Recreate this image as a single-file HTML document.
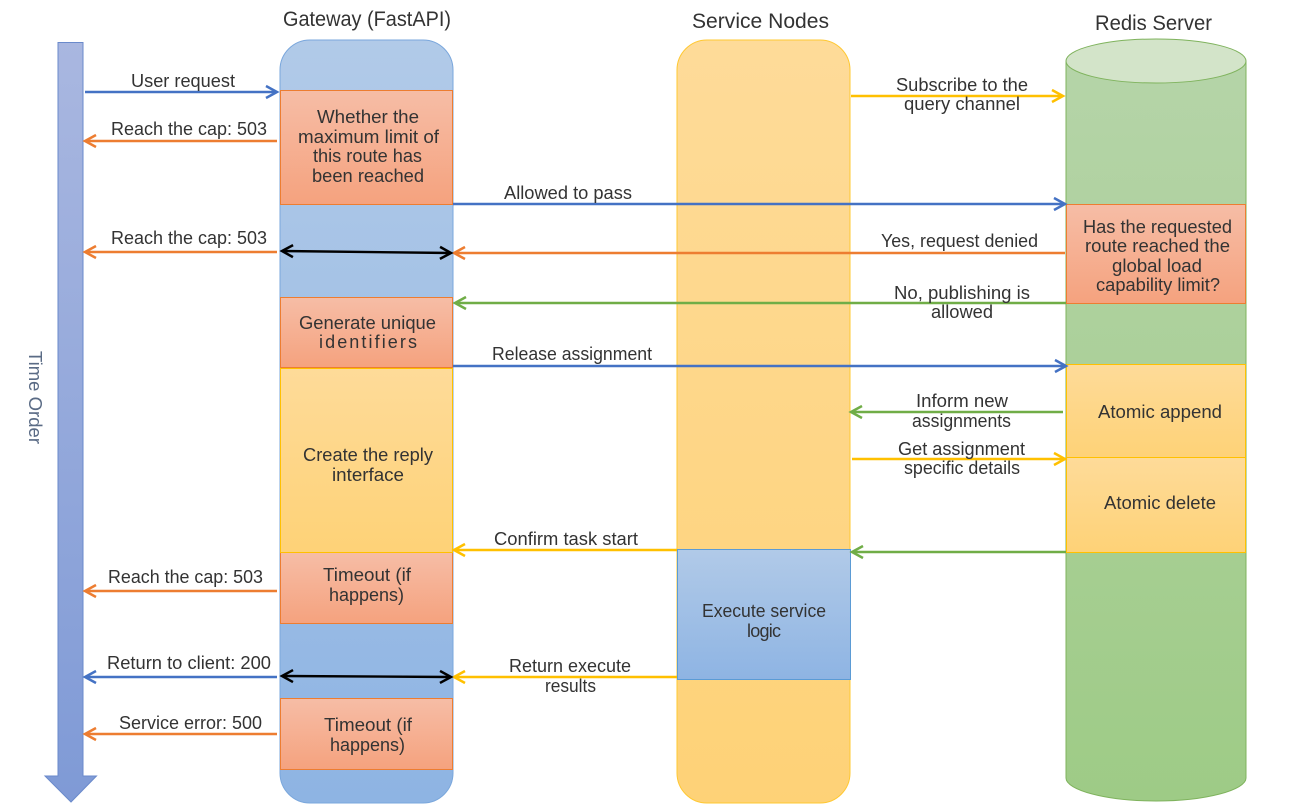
<!DOCTYPE html>
<html><head><meta charset="utf-8"><style>
html,body{margin:0;padding:0;background:#fff;width:1293px;height:808px;overflow:hidden}
svg{display:block}
text{font-family:"Liberation Sans",sans-serif;font-size:18px;fill:#333}
</style></head><body>
<svg width="1293" height="808" viewBox="0 0 1293 808" xmlns="http://www.w3.org/2000/svg">
<defs>
<linearGradient id="gb" x1="0" y1="0" x2="0" y2="1"><stop offset="0" stop-color="#b1cae8"/><stop offset="1" stop-color="#8eb4e3"/></linearGradient>
<linearGradient id="gy" x1="0" y1="0" x2="0" y2="1"><stop offset="0" stop-color="#fedb99"/><stop offset="1" stop-color="#fed277"/></linearGradient>
<linearGradient id="go" x1="0" y1="0" x2="0" y2="1"><stop offset="0" stop-color="#f6bda6"/><stop offset="1" stop-color="#f5a27e"/></linearGradient>
<linearGradient id="gg" x1="0" y1="0" x2="0" y2="1"><stop offset="0" stop-color="#b5d4a8"/><stop offset="1" stop-color="#9ecb86"/></linearGradient>
<linearGradient id="gt" x1="0" y1="0" x2="0" y2="1"><stop offset="0" stop-color="#a9b7e0"/><stop offset="1" stop-color="#7f9ad6"/></linearGradient>
<marker id="mb" markerUnits="userSpaceOnUse" markerWidth="16" markerHeight="16" refX="13" refY="8" orient="auto-start-reverse" overflow="visible"><path d="M2,2 L13,8 L2,14" fill="none" stroke="#4472c4" stroke-width="2.5"/></marker>
<marker id="mo" markerUnits="userSpaceOnUse" markerWidth="16" markerHeight="16" refX="13" refY="8" orient="auto-start-reverse" overflow="visible"><path d="M2,2 L13,8 L2,14" fill="none" stroke="#ed7d31" stroke-width="2.5"/></marker>
<marker id="my" markerUnits="userSpaceOnUse" markerWidth="16" markerHeight="16" refX="13" refY="8" orient="auto-start-reverse" overflow="visible"><path d="M2,2 L13,8 L2,14" fill="none" stroke="#ffc000" stroke-width="2.5"/></marker>
<marker id="mg" markerUnits="userSpaceOnUse" markerWidth="16" markerHeight="16" refX="13" refY="8" orient="auto-start-reverse" overflow="visible"><path d="M2,2 L13,8 L2,14" fill="none" stroke="#70ad47" stroke-width="2.5"/></marker>
<marker id="mk" markerUnits="userSpaceOnUse" markerWidth="16" markerHeight="16" refX="13" refY="8" orient="auto-start-reverse" overflow="visible"><path d="M2,2 L13,8 L2,14" fill="none" stroke="#000" stroke-width="2.5"/></marker>
</defs>

<!-- time arrow -->
<path d="M58,42.5 H83 V776 H96.5 L71,802 L45,776 H58 Z" fill="url(#gt)" stroke="#6a8acb" stroke-width="1"/>

<!-- lanes -->
<rect x="280" y="40" width="173" height="763" rx="30" ry="30" fill="url(#gb)" stroke="#7aa7dc" stroke-width="1"/>
<rect x="677" y="40" width="173" height="763" rx="30" ry="30" fill="url(#gy)" stroke="#ffc832" stroke-width="1"/>
<path d="M1066,61 V778 C1066,790 1106,801 1156,801 C1206,801 1246,790 1246,778 V61 Z" fill="url(#gg)" stroke="#7fb35d" stroke-width="1"/>
<ellipse cx="1156" cy="61" rx="90" ry="22" fill="#d3e4c9" stroke="#7fb35d" stroke-width="1"/>

<!-- boxes -->
<g stroke="#ed7d31" stroke-width="1" fill="url(#go)">
<rect x="280.5" y="90.5" width="172" height="114"/>
<rect x="280.5" y="297.5" width="172" height="70"/>
<rect x="280.5" y="552.5" width="172" height="71"/>
<rect x="280.5" y="698.5" width="172" height="71"/>
<rect x="1066.5" y="204.5" width="179" height="99"/>
</g>
<g stroke="#ffc000" stroke-width="1" fill="url(#gy)">
<rect x="280.5" y="368.5" width="172" height="184"/>
<rect x="1066.5" y="364.5" width="179" height="93"/>
<rect x="1066.5" y="457.5" width="179" height="95"/>
</g>
<rect x="677.5" y="549.5" width="173" height="130" fill="url(#gb)" stroke="#5b9bd5" stroke-width="1"/>

<!-- connectors -->
<g fill="none" stroke-width="2.4">
<line x1="85" y1="92" x2="277" y2="92" stroke="#4472c4" marker-end="url(#mb)"/>
<line x1="277" y1="141" x2="85" y2="141" stroke="#ed7d31" marker-end="url(#mo)"/>
<line x1="453" y1="204" x2="1065" y2="204" stroke="#4472c4" marker-end="url(#mb)"/>
<line x1="277" y1="252" x2="85" y2="252" stroke="#ed7d31" marker-end="url(#mo)"/>
<line x1="1065" y1="253" x2="454" y2="253" stroke="#ed7d31" marker-end="url(#mo)"/>
<line x1="1066" y1="303" x2="455" y2="303" stroke="#70ad47" marker-end="url(#mg)"/>
<line x1="453" y1="366" x2="1066" y2="366" stroke="#4472c4" marker-end="url(#mb)"/>
<line x1="851" y1="96" x2="1063" y2="96" stroke="#ffc000" marker-end="url(#my)"/>
<line x1="1063" y1="412" x2="851" y2="412" stroke="#70ad47" marker-end="url(#mg)"/>
<line x1="852" y1="459" x2="1065" y2="459" stroke="#ffc000" marker-end="url(#my)"/>
<line x1="1066" y1="552" x2="852" y2="552" stroke="#70ad47" marker-end="url(#mg)"/>
<line x1="677" y1="550" x2="454" y2="550" stroke="#ffc000" marker-end="url(#my)"/>
<line x1="277" y1="591" x2="85" y2="591" stroke="#ed7d31" marker-end="url(#mo)"/>
<line x1="277" y1="677" x2="85" y2="677" stroke="#4472c4" marker-end="url(#mb)"/>
<line x1="677" y1="677" x2="454" y2="677" stroke="#ffc000" marker-end="url(#my)"/>
<line x1="277" y1="734" x2="85" y2="734" stroke="#ed7d31" marker-end="url(#mo)"/>
<line x1="282" y1="251" x2="451" y2="253" stroke="#000" marker-start="url(#mk)" marker-end="url(#mk)"/>
<line x1="282" y1="676" x2="451" y2="677" stroke="#000" marker-start="url(#mk)" marker-end="url(#mk)"/>
</g>

<!-- titles -->
<text x="283" y="26" textLength="168" lengthAdjust="spacingAndGlyphs" style="font-size:21px">Gateway (FastAPI)</text>
<text x="692" y="28" textLength="137" lengthAdjust="spacingAndGlyphs" style="font-size:21px">Service Nodes</text>
<text x="1095" y="30" textLength="117" lengthAdjust="spacingAndGlyphs" style="font-size:21px">Redis Server</text>

<!-- labels -->
<g>
<text x="131" y="87" textLength="104" lengthAdjust="spacingAndGlyphs">User request</text>
<text x="111" y="135" textLength="156" lengthAdjust="spacingAndGlyphs">Reach the cap: 503</text>
<text x="111" y="244" textLength="156" lengthAdjust="spacingAndGlyphs">Reach the cap: 503</text>
<text x="108" y="583" textLength="155" lengthAdjust="spacingAndGlyphs">Reach the cap: 503</text>
<text x="107" y="669" textLength="164" lengthAdjust="spacingAndGlyphs">Return to client: 200</text>
<text x="119" y="729" textLength="143" lengthAdjust="spacingAndGlyphs">Service error: 500</text>

<text x="317" y="123" textLength="102" lengthAdjust="spacingAndGlyphs">Whether the</text>
<text x="298" y="143" textLength="141" lengthAdjust="spacingAndGlyphs">maximum limit of</text>
<text x="313" y="162" textLength="109" lengthAdjust="spacingAndGlyphs">this route has</text>
<text x="312" y="182" textLength="112" lengthAdjust="spacingAndGlyphs">been reached</text>

<text x="299" y="329" textLength="137" lengthAdjust="spacingAndGlyphs">Generate unique</text>
<text x="319" y="348" textLength="98" lengthAdjust="spacing">identifiers</text>
<text x="303" y="461" textLength="130" lengthAdjust="spacingAndGlyphs">Create the reply</text>
<text x="332" y="481" textLength="72" lengthAdjust="spacingAndGlyphs">interface</text>
<text x="323" y="581" textLength="88" lengthAdjust="spacingAndGlyphs">Timeout (if</text>
<text x="329" y="601" textLength="75" lengthAdjust="spacingAndGlyphs">happens)</text>
<text x="324" y="731" textLength="88" lengthAdjust="spacingAndGlyphs">Timeout (if</text>
<text x="330" y="751" textLength="75" lengthAdjust="spacingAndGlyphs">happens)</text>

<text x="504" y="199" textLength="128" lengthAdjust="spacingAndGlyphs">Allowed to pass</text>
<text x="492" y="360" textLength="160" lengthAdjust="spacingAndGlyphs">Release assignment</text>
<text x="494" y="545" textLength="144" lengthAdjust="spacingAndGlyphs">Confirm task start</text>
<text x="509" y="672" textLength="122" lengthAdjust="spacingAndGlyphs">Return execute</text>
<text x="545" y="692" textLength="51" lengthAdjust="spacingAndGlyphs">results</text>

<text x="702" y="617" textLength="124" lengthAdjust="spacingAndGlyphs">Execute service</text>
<text x="747" y="637" textLength="34" lengthAdjust="spacing">logic</text>

<text x="896" y="91" textLength="132" lengthAdjust="spacingAndGlyphs">Subscribe to the</text>
<text x="904" y="110" textLength="116" lengthAdjust="spacingAndGlyphs">query channel</text>
<text x="881" y="247" textLength="157" lengthAdjust="spacingAndGlyphs">Yes, request denied</text>
<text x="894" y="299" textLength="136" lengthAdjust="spacingAndGlyphs">No, publishing is</text>
<text x="931" y="318" textLength="62" lengthAdjust="spacingAndGlyphs">allowed</text>
<text x="916" y="407" textLength="92" lengthAdjust="spacingAndGlyphs">Inform new</text>
<text x="912" y="427" textLength="99" lengthAdjust="spacingAndGlyphs">assignments</text>
<text x="898" y="455" textLength="127" lengthAdjust="spacingAndGlyphs">Get assignment</text>
<text x="904" y="474" textLength="116" lengthAdjust="spacingAndGlyphs">specific details</text>

<text x="1083" y="233" textLength="149" lengthAdjust="spacingAndGlyphs">Has the requested</text>
<text x="1085" y="252" textLength="145" lengthAdjust="spacingAndGlyphs">route reached the</text>
<text x="1112" y="272" textLength="90" lengthAdjust="spacingAndGlyphs">global load</text>
<text x="1096" y="291" textLength="124" lengthAdjust="spacingAndGlyphs">capability limit?</text>
<text x="1098" y="418" textLength="124" lengthAdjust="spacingAndGlyphs">Atomic append</text>
<text x="1104" y="509" textLength="112" lengthAdjust="spacingAndGlyphs">Atomic delete</text>

<text transform="translate(29,351) rotate(90)" textLength="93" lengthAdjust="spacingAndGlyphs" style="fill:#5a6b85">Time Order</text>
</g>
</svg>
</body></html>
